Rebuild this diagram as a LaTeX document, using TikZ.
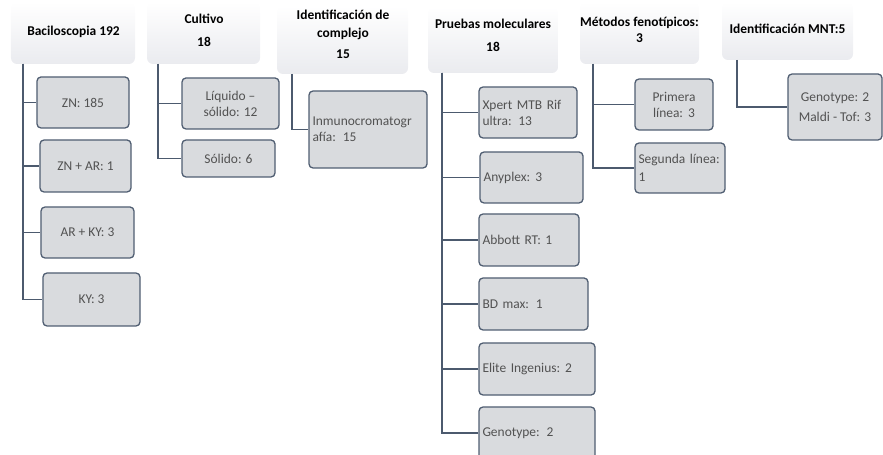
\documentclass[tikz,border=0pt]{standalone}
\usepackage{fontspec}
\setmainfont{Carlito}
\definecolor{boxc}{RGB}{217,219,222}
\definecolor{bordc}{RGB}{80,94,114}
\definecolor{linec}{RGB}{76,90,110}
\definecolor{txtc}{RGB}{82,82,82}
\definecolor{hdrc}{RGB}{234,235,239}
\begin{document}
\begin{tikzpicture}[x=1bp,y=-1bp,
  box/.style={draw=bordc, line width=1.3bp, fill=boxc, rounded corners=4bp, text=txtc,
    font=\fontsize{13.5}{16}\selectfont, inner sep=3.5bp, align=center},
  lbox/.style={box, align=left},
  hdr/.style={draw=none, top color=white, bottom color=hdrc, rounded corners=6bp, inner sep=0pt},
  htext/.style={font=\bfseries\fontsize{13.5}{15.5}\selectfont, text=black, align=center, inner sep=0pt},
  conn/.style={draw=linec, line width=1.6bp}]
\useasboundingbox (0,0) rectangle (883,455);
\clip (0,0) rectangle (883,455);

% headers
\node[hdr, minimum width=124bp, minimum height=62bp] (h1) at (73,33) {};
\node[hdr, minimum width=113bp, minimum height=62bp] (h2) at (203.5,33) {};
\node[hdr, minimum width=131bp, minimum height=68bp] (h3) at (342.5,40) {};
\node[hdr, minimum width=130bp, minimum height=66bp] (h4) at (493,40) {};
\node[hdr, minimum width=119bp, minimum height=62bp] (h5) at (639.5,33) {};
\node[hdr, minimum width=131bp, minimum height=58bp] (h6) at (787.5,31) {};

\node[htext] (l1) at (73.5,32) {Baciloscopia 192};
\node[htext] (l2) at (204,30.5) {Cultivo\\[7pt]18};
\node[htext] (l3) at (343,34.5) {Identificación de\\[2.5pt]complejo\\[5.5pt]15};
\node[htext] (l4) at (493,35.5) {Pruebas moleculares\\[7.5pt]18};
\node[htext] (l5) at (639.5,30) {Métodos fenotípicos:\\[0.5pt]3};
\node[htext] (l6) at (787.5,29) {Identificación MNT:5};

% column 1
\node[box, minimum width=92bp, minimum height=51bp] (b11) at (83,102.5) {ZN: 185};
\node[box, minimum width=91bp, minimum height=52bp] (b12) at (85.5,166) {ZN + AR: 1};
\node[box, minimum width=93bp, minimum height=51bp] (b13) at (87.5,232.5) {AR + KY: 3};
\node[box, minimum width=97bp, minimum height=53bp] (b14) at (91.5,299.5) {KY: 3};
% column 2
\node[box, minimum width=97bp, minimum height=51bp] (b21) at (230.5,103.5) {Líquido –\\sólido: 12};
\node[box, minimum width=93bp, minimum height=37bp] (b22) at (228.5,158.5) {Sólido: 6};
% column 3
\node[lbox, text width=111bp, minimum height=77bp] (b31) at (368,129.5) {Inmunocromatogr\\afía: 15};
% column 4
\node[lbox, text width=91bp, minimum height=51bp] (b41) at (528,112.5) {Xpert MTB Rif\\ultra: 13};
\node[lbox, text width=96bp, minimum height=51bp] (b42) at (531.5,177.5) {Anyplex:\hspace{5bp}3};
\node[lbox, text width=93bp, minimum height=52bp] (b43) at (529,240) {Abbott RT: 1};
\node[lbox, text width=102bp, minimum height=52bp] (b44) at (533.5,304) {BD max: 1};
\node[lbox, text width=109bp, minimum height=52bp] (b45) at (537,369) {Elite Ingenius:\hspace{5bp}2};
\node[lbox, text width=109bp, minimum height=52bp] (b46) at (537,433) {Genotype: 2};
% column 5
\node[box, minimum width=78bp, minimum height=51bp] (b51) at (674,104.5) {Primera\\línea:\hspace{5bp}3};
\node[lbox, text width=83bp, minimum height=50bp] (b52) at (680,168) {Segunda línea:\\[2pt]1};
% column 6
\node[box, minimum width=94bp, minimum height=66bp] (b61) at (835,107) {Genotype: 2\\[4pt]Maldi - Tof: 3};

% trunks
\coordinate (t1) at (23,64);
\coordinate (t2) at (158,64);
\coordinate (t3) at (292,74);
\coordinate (t4) at (442,73);
\coordinate (t5) at (593,64);
\coordinate (t6) at (737,60);

\foreach \b in {b11,b12,b13,b14} \draw[conn] (t1) |- (\b.west);
\foreach \b in {b21,b22} \draw[conn] (t2) |- (\b.west);
\draw[conn] (t3) |- (b31.west);
\foreach \b in {b41,b42,b43,b44,b45,b46} \draw[conn] (t4) |- (\b.west);
\foreach \b in {b51,b52} \draw[conn] (t5) |- (\b.west);
\draw[conn] (t6) |- (b61.west);
\end{tikzpicture}
\end{document}
